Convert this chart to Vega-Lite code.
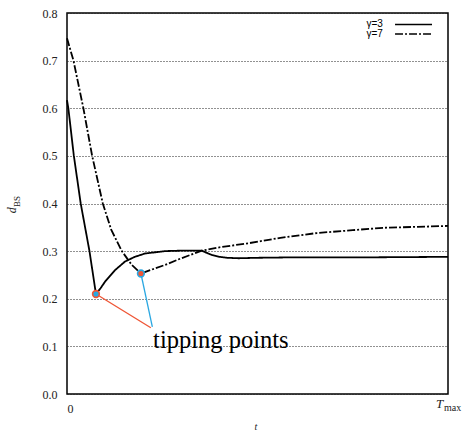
{
  "$schema": "https://vega.github.io/schema/vega-lite/v6.json",
  "width": 381,
  "height": 381,
  "autosize": {"type": "none"},
  "padding": {"left": 67, "top": 13, "right": 14, "bottom": 38},
  "background": "white",
  "config": {
    "view": {"stroke": "black", "strokeWidth": 1.5},
    "axis": {"labelFont": "Liberation Serif, Times New Roman, DejaVu Serif, serif", "labelFontSize": 12, "labelColor": "#222"}
  },
  "datasets": {
    "curves": [
      {"series": "γ=3", "t": 0, "v": 0.617},
      {"series": "γ=3", "t": 0.35, "v": 0.6},
      {"series": "γ=3", "t": 1.8, "v": 0.5},
      {"series": "γ=3", "t": 3.6, "v": 0.4},
      {"series": "γ=3", "t": 5.9, "v": 0.3},
      {"series": "γ=3", "t": 7.6, "v": 0.21},
      {"series": "γ=3", "t": 8.8, "v": 0.222},
      {"series": "γ=3", "t": 10, "v": 0.236},
      {"series": "γ=3", "t": 12.6, "v": 0.26},
      {"series": "γ=3", "t": 15.2, "v": 0.278},
      {"series": "γ=3", "t": 17.8, "v": 0.288},
      {"series": "γ=3", "t": 20.5, "v": 0.295},
      {"series": "γ=3", "t": 25.7, "v": 0.3},
      {"series": "γ=3", "t": 30, "v": 0.301},
      {"series": "γ=3", "t": 35.4, "v": 0.301},
      {"series": "γ=3", "t": 36.5, "v": 0.297},
      {"series": "γ=3", "t": 38, "v": 0.292},
      {"series": "γ=3", "t": 40, "v": 0.288},
      {"series": "γ=3", "t": 42, "v": 0.286},
      {"series": "γ=3", "t": 45, "v": 0.285},
      {"series": "γ=3", "t": 50, "v": 0.286},
      {"series": "γ=3", "t": 60, "v": 0.287},
      {"series": "γ=3", "t": 80, "v": 0.287},
      {"series": "γ=3", "t": 100, "v": 0.288},
      {"series": "γ=7", "t": 0, "v": 0.747},
      {"series": "γ=7", "t": 1.7, "v": 0.7},
      {"series": "γ=7", "t": 4.3, "v": 0.6},
      {"series": "γ=7", "t": 6.6, "v": 0.5},
      {"series": "γ=7", "t": 9.4, "v": 0.4},
      {"series": "γ=7", "t": 11.6, "v": 0.345},
      {"series": "γ=7", "t": 14.4, "v": 0.3},
      {"series": "γ=7", "t": 17, "v": 0.271},
      {"series": "γ=7", "t": 19.4, "v": 0.253},
      {"series": "γ=7", "t": 22.5, "v": 0.262},
      {"series": "γ=7", "t": 25.7, "v": 0.271},
      {"series": "γ=7", "t": 30, "v": 0.285},
      {"series": "γ=7", "t": 35.4, "v": 0.301},
      {"series": "γ=7", "t": 40, "v": 0.308},
      {"series": "γ=7", "t": 48, "v": 0.317},
      {"series": "γ=7", "t": 56, "v": 0.328},
      {"series": "γ=7", "t": 65.6, "v": 0.338},
      {"series": "γ=7", "t": 75, "v": 0.344},
      {"series": "γ=7", "t": 83, "v": 0.349},
      {"series": "γ=7", "t": 92, "v": 0.351},
      {"series": "γ=7", "t": 100, "v": 0.353}
    ],
    "pointers": [
      {"series": "γ=3", "t": 7.6, "v": 0.21, "t2": 22.0, "v2": 0.139},
      {"series": "γ=7", "t": 19.4, "v": 0.253, "t2": 22.4, "v2": 0.141}
    ],
    "legend": [
      {"series": "γ=3", "t": 86.1, "t2": 95.8, "v": 0.776, "tl": 82.9},
      {"series": "γ=7", "t": 86.1, "t2": 95.8, "v": 0.756, "tl": 82.9}
    ],
    "labels": [
      {"kind": "note", "text": "tipping points", "t": 22.6, "v": 0.097},
      {"kind": "d", "text": "d", "t": -14.4, "v": 0.386},
      {"kind": "sub", "text": "BS", "t": -13.2, "v": 0.404},
      {"kind": "tt", "text": "t", "t": 49.6, "v": -0.069},
      {"kind": "T", "text": "T", "t": 97.8, "v": -0.021},
      {"kind": "max", "text": "max", "t": 101.2, "v": -0.03}
    ]
  },
  "layer": [
    {
      "data": {"name": "curves"},
      "mark": {"type": "line", "color": "black", "strokeWidth": 1.8},
      "encoding": {
        "x": {"field": "t", "type": "quantitative", "scale": {"domain": [0, 100], "nice": false, "zero": false},
          "axis": {"values": [0], "title": null, "ticks": false, "domain": false, "grid": false, "labelPadding": 9}},
        "y": {"field": "v", "type": "quantitative", "scale": {"domain": [0, 0.8], "nice": false},
          "axis": {"values": [0, 0.1, 0.2, 0.3, 0.4, 0.5, 0.6, 0.7, 0.8], "title": null, "ticks": false, "domain": false,
            "grid": true, "gridColor": "#222", "gridDash": [1, 2], "gridWidth": 1, "gridOpacity": 1, "labelPadding": 10}},
        "strokeDash": {"field": "series", "type": "nominal", "scale": {"domain": ["γ=3", "γ=7"], "range": [[1, 0], [8, 2, 2, 2]]}, "legend": null},
        "detail": {"field": "series"}
      }
    },
    {
      "data": {"name": "pointers"},
      "transform": [{"filter": "datum.series == 'γ=3'"}],
      "mark": {"type": "rule", "color": "#ef5535", "strokeWidth": 1.3},
      "encoding": {
        "x": {"field": "t", "type": "quantitative"},
        "y": {"field": "v", "type": "quantitative"},
        "x2": {"field": "t2"},
        "y2": {"field": "v2"}
      }
    },
    {
      "data": {"name": "pointers"},
      "transform": [{"filter": "datum.series == 'γ=7'"}],
      "mark": {"type": "rule", "color": "#2aa7e1", "strokeWidth": 1.3},
      "encoding": {
        "x": {"field": "t", "type": "quantitative"},
        "y": {"field": "v", "type": "quantitative"},
        "x2": {"field": "t2"},
        "y2": {"field": "v2"}
      }
    },
    {
      "data": {"name": "pointers"},
      "transform": [{"filter": "datum.series == 'γ=3'"}],
      "mark": {"type": "point", "shape": "circle", "size": 45, "filled": false, "fill": "#2aa7e1", "fillOpacity": 1, "stroke": "#ef5535", "strokeWidth": 1.6, "opacity": 1},
      "encoding": {
        "x": {"field": "t", "type": "quantitative"},
        "y": {"field": "v", "type": "quantitative"}
      }
    },
    {
      "data": {"name": "pointers"},
      "transform": [{"filter": "datum.series == 'γ=7'"}],
      "mark": {"type": "point", "shape": "circle", "size": 45, "filled": false, "fill": "#ef5535", "fillOpacity": 1, "stroke": "#2aa7e1", "strokeWidth": 1.6, "opacity": 1},
      "encoding": {
        "x": {"field": "t", "type": "quantitative"},
        "y": {"field": "v", "type": "quantitative"}
      }
    },
    {
      "data": {"name": "legend"},
      "mark": {"type": "rule", "color": "black", "strokeWidth": 1.6},
      "encoding": {
        "x": {"field": "t", "type": "quantitative"},
        "x2": {"field": "t2"},
        "y": {"field": "v", "type": "quantitative"},
        "strokeDash": {"field": "series", "type": "nominal", "legend": null}
      }
    },
    {
      "data": {"name": "legend"},
      "mark": {"type": "text", "align": "right", "baseline": "middle", "font": "Liberation Sans", "fontSize": 10, "color": "black"},
      "encoding": {
        "x": {"field": "tl", "type": "quantitative"},
        "y": {"field": "v", "type": "quantitative"},
        "text": {"field": "series"}
      }
    },
    {
      "data": {"name": "labels"},
      "transform": [{"filter": "datum.kind == 'note'"}],
      "mark": {"type": "text", "align": "left", "baseline": "alphabetic", "font": "Liberation Serif, Times New Roman, DejaVu Serif, serif", "fontSize": 24.5, "color": "black"},
      "encoding": {
        "x": {"field": "t", "type": "quantitative"},
        "y": {"field": "v", "type": "quantitative"},
        "text": {"field": "text"}
      }
    },
    {
      "data": {"name": "labels"},
      "transform": [{"filter": "datum.kind == 'd'"}],
      "mark": {"type": "text", "align": "center", "baseline": "middle", "font": "Liberation Serif, Times New Roman, DejaVu Serif, serif", "fontStyle": "italic", "fontSize": 12, "angle": 270, "color": "#222"},
      "encoding": {
        "x": {"field": "t", "type": "quantitative"},
        "y": {"field": "v", "type": "quantitative"},
        "text": {"field": "text"}
      }
    },
    {
      "data": {"name": "labels"},
      "transform": [{"filter": "datum.kind == 'sub'"}],
      "mark": {"type": "text", "align": "center", "baseline": "middle", "font": "Liberation Serif, Times New Roman, DejaVu Serif, serif", "fontSize": 9, "angle": 270, "color": "#222"},
      "encoding": {
        "x": {"field": "t", "type": "quantitative"},
        "y": {"field": "v", "type": "quantitative"},
        "text": {"field": "text"}
      }
    },
    {
      "data": {"name": "labels"},
      "transform": [{"filter": "datum.kind == 'tt'"}],
      "mark": {"type": "text", "align": "center", "baseline": "middle", "font": "Liberation Serif, Times New Roman, DejaVu Serif, serif", "fontStyle": "italic", "fontSize": 10, "color": "#222"},
      "encoding": {
        "x": {"field": "t", "type": "quantitative"},
        "y": {"field": "v", "type": "quantitative"},
        "text": {"field": "text"}
      }
    },
    {
      "data": {"name": "labels"},
      "transform": [{"filter": "datum.kind == 'T'"}],
      "mark": {"type": "text", "align": "center", "baseline": "middle", "font": "Liberation Serif, Times New Roman, DejaVu Serif, serif", "fontStyle": "italic", "fontSize": 13, "color": "#222"},
      "encoding": {
        "x": {"field": "t", "type": "quantitative"},
        "y": {"field": "v", "type": "quantitative"},
        "text": {"field": "text"}
      }
    },
    {
      "data": {"name": "labels"},
      "transform": [{"filter": "datum.kind == 'max'"}],
      "mark": {"type": "text", "align": "center", "baseline": "middle", "font": "Liberation Serif, Times New Roman, DejaVu Serif, serif", "fontSize": 10, "color": "#222"},
      "encoding": {
        "x": {"field": "t", "type": "quantitative"},
        "y": {"field": "v", "type": "quantitative"},
        "text": {"field": "text"}
      }
    }
  ]
}
